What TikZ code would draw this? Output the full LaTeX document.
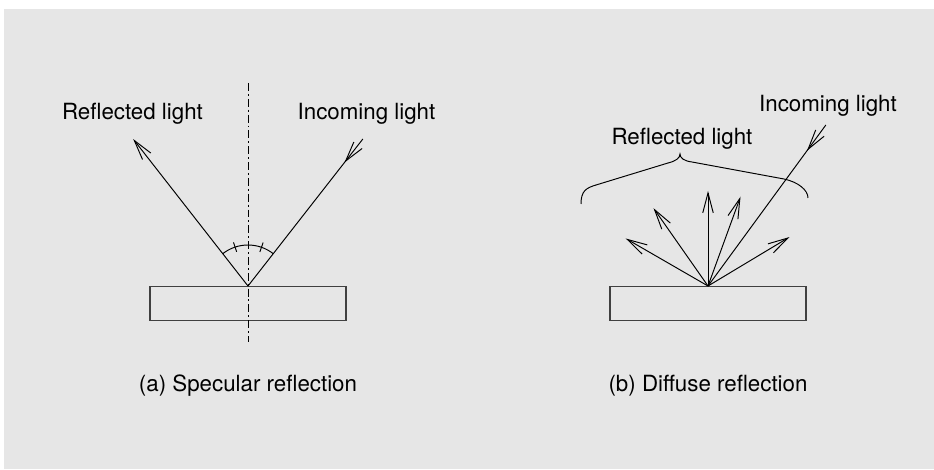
\documentclass[tikz,border=0pt]{standalone}
\usepackage{fontspec}
\setmainfont{TeX Gyre Heros}
\usetikzlibrary{arrows.meta,decorations.markings}
\definecolor{panelgray}{RGB}{230,230,230}

\begin{document}
\begin{tikzpicture}[line width=0.55pt, font=\fontsize{12.7}{15}\selectfont,
  ray/.style={-{Straight Barb[length=4mm,width=2.1mm]}},
  inray/.style={postaction={decorate}, decoration={markings,
    mark=at position 0.16 with {\arrow{Straight Barb[length=4mm,width=2.1mm]}}}},
  plate/.style={draw=black!75, line width=0.65pt, rectangle, inner sep=0pt,
    minimum width=3.92cm, minimum height=0.68cm, anchor=north},
  normalline/.style={dash pattern=on 4.5pt off 1.7pt on 1.1pt off 1.7pt}]

  \useasboundingbox (0,0) rectangle (18.68,9.38);
  \fill[panelgray] (0.08,0) rectangle (18.68,9.2);

  % ==========================================
  % SECTION 1: Specular reflection
  % ==========================================
  \begin{scope}[shift={(4.96,3.66)}]
    % Surface and normal
    \coordinate (hit1) at (0,0);
    \node[plate] (plate1) at (hit1) {};
    \coordinate (normtop) at (0,4.06);
    \coordinate (normbot) at (0,-1.12);
    \draw[normalline] (normtop) -- (normbot);

    % Rays
    \coordinate (refl1) at (128:3.73);
    \coordinate (inc1) at (52:3.73);
    \draw[ray] (hit1) -- (refl1);
    \draw[inray] (inc1) -- (hit1);

    % Equal angles
    \draw (52:0.82) arc[start angle=52, end angle=128, radius=0.82];
    \draw (70.8:0.72) -- (70.8:0.92);
    \draw (108.4:0.72) -- (108.4:0.92);

    % Labels
    \node[anchor=base] (refllabel1) at (-2.31,3.32) {Reflected light};
    \node[anchor=base] (inclabel1) at (2.37,3.32) {Incoming light};
    \node[anchor=base] (caption1) at (0,-2.1) {(a) Specular reflection};
  \end{scope}

  % ==========================================
  % SECTION 2: Diffuse reflection
  % ==========================================
  \begin{scope}[shift={(14.16,3.66)}]
    % Surface
    \coordinate (hit2) at (0,0);
    \node[plate] (plate2) at (hit2) {};

    % Scattered rays
    \foreach \a in {150,125,90,70,31}
      \draw[ray] (hit2) -- (\a:1.9);

    % Incoming ray
    \coordinate (inc2) at (53.8:3.99);
    \draw[inray] (inc2) -- (hit2);

    % Brace over the scattered rays
    \draw (-2.54,1.64) .. controls (-2.54,1.9) and (-2.44,1.96) .. (-2.24,2.02)
      -- (-0.80,2.46) .. controls (-0.64,2.50) and (-0.56,2.56) .. (-0.56,2.64)
      .. controls (-0.56,2.56) and (-0.48,2.50) .. (-0.32,2.48)
      -- (1.52,2.14) .. controls (1.80,2.08) and (2.00,1.92) .. (2.00,1.76);

    % Labels
    \node[anchor=base] (refllabel2) at (-0.52,2.83) {Reflected light};
    \node[anchor=base] (inclabel2) at (2.4,3.48) {Incoming light};
    \node[anchor=base] (caption2) at (0,-2.1) {(b) Diffuse reflection};
  \end{scope}

\end{tikzpicture}
\end{document}
